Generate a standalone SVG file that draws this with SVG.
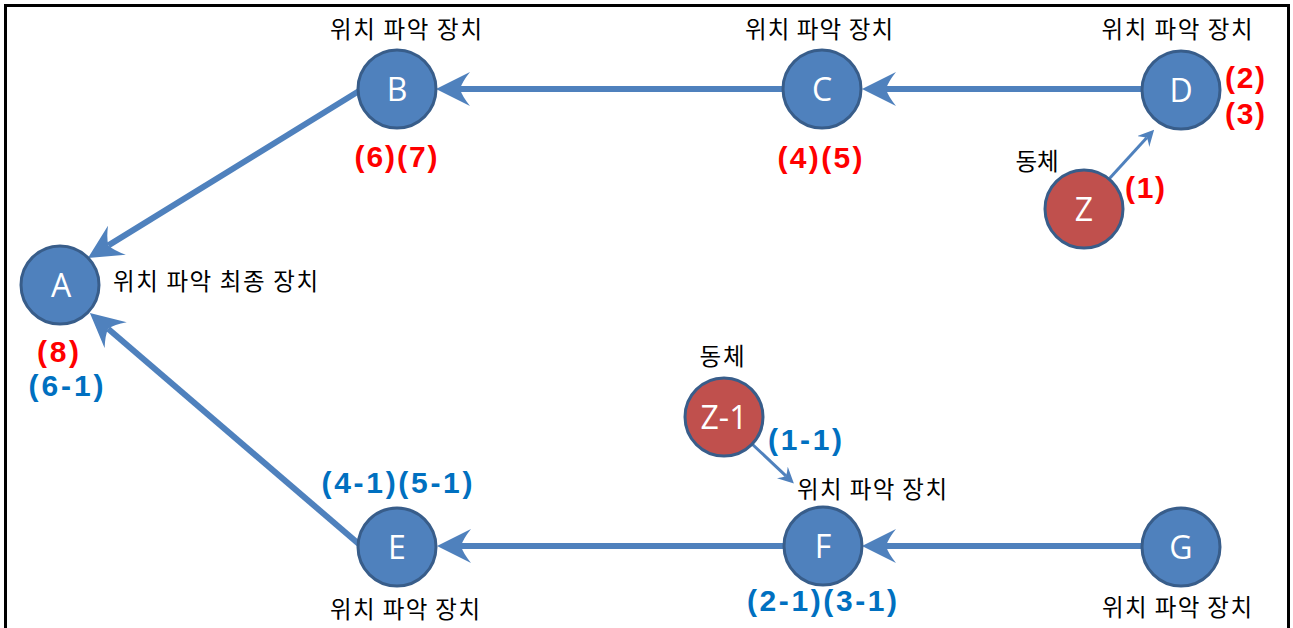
<svg xmlns="http://www.w3.org/2000/svg" width="1293" height="628" viewBox="0 0 1293 628">
<defs>
<style>
.node{fill:#4f81bd;stroke:#385d8a;stroke-width:3}
.obj{fill:#c0504d;stroke:#385d8a;stroke-width:3}
.lt{font-family:"Open Sans","Noto Sans","Liberation Sans",sans-serif;font-size:32px;fill:#fff;text-anchor:middle}
.kr{font-family:"Noto Sans CJK KR","Noto Sans CJK SC",sans-serif;font-size:23.5px;fill:#000}
.c{text-anchor:middle}
.num{font-family:"Liberation Sans","Arial",sans-serif;font-weight:bold;font-size:30px;text-anchor:middle}
.red{fill:#ff0000}
.blue{fill:#0070c0}
.thick{stroke:#4f81bd;stroke-width:6;fill:none;marker-end:url(#big)}
.thin{stroke:#4f81bd;stroke-width:3;fill:none;marker-end:url(#small)}
</style>
<marker id="big" markerUnits="userSpaceOnUse" viewBox="0 0 34 34" markerWidth="34" markerHeight="34" refX="10" refY="17" orient="auto">
<path d="M34,17 L0,0 Q8,10 10,17 Q8,24 0,34 Z" fill="#4f81bd"/>
</marker>
<marker id="small" markerUnits="userSpaceOnUse" viewBox="0 0 16 16" markerWidth="16" markerHeight="16" refX="5" refY="8" orient="auto">
<path d="M16,8 L0,0 Q4,5 5,8 Q4,11 0,16 Z" fill="#4f81bd"/>
</marker>
</defs>
<rect x="5.5" y="5.5" width="1283" height="700" fill="#fff" stroke="#000" stroke-width="3"/>
<g id="connectors">
<line class="thick" x1="783" y1="89" x2="460" y2="89"/>
<line class="thick" x1="1143" y1="89" x2="886" y2="89"/>
<line class="thick" x1="359" y1="91" x2="108.4" y2="245.4"/>
<line class="thick" x1="360" y1="545" x2="108.1" y2="328.7"/>
<line class="thick" x1="784" y1="546" x2="461" y2="546"/>
<line class="thick" x1="1142" y1="546" x2="886" y2="546"/>
<line class="thin" x1="1109" y1="179" x2="1146.7" y2="137.8"/>
<line class="thin" x1="752" y1="444" x2="785.9" y2="475.9"/>
</g>
<g id="node-A">
<circle class="node" cx="60" cy="285" r="39"/>
<text class="lt" x="61" y="297">A</text>
<text class="kr" x="113" y="290" textLength="205" lengthAdjust="spacing">위치 파악 최종 장치</text>
<text class="num red" x="58" y="362" textLength="42" lengthAdjust="spacing">(8)</text>
<text class="num blue" x="66" y="396" textLength="75" lengthAdjust="spacing">(6-1)</text>
</g>
<g id="node-B">
<circle class="node" cx="397" cy="89" r="39"/>
<text class="lt" x="397" y="101">B</text>
<text class="kr c" x="406" y="38" textLength="152" lengthAdjust="spacing">위치 파악 장치</text>
<text class="num red" x="396" y="167" textLength="83" lengthAdjust="spacing">(6)(7)</text>
</g>
<g id="node-C">
<circle class="node" cx="822" cy="89" r="39"/>
<text class="lt" x="822" y="101">C</text>
<text class="kr c" x="819" y="38" textLength="148" lengthAdjust="spacing">위치 파악 장치</text>
<text class="num red" x="820" y="168" textLength="85" lengthAdjust="spacing">(4)(5)</text>
</g>
<g id="node-D">
<circle class="node" cx="1181" cy="90" r="39"/>
<text class="lt" x="1181" y="102">D</text>
<text class="kr c" x="1177" y="38" textLength="151" lengthAdjust="spacing">위치 파악 장치</text>
<text class="num red" x="1245" y="88" textLength="40" lengthAdjust="spacing">(2)</text>
<text class="num red" x="1245" y="124" textLength="40" lengthAdjust="spacing">(3)</text>
</g>
<g id="node-Z">
<circle class="obj" cx="1084" cy="209" r="39"/>
<text class="lt" x="1084" y="221">Z</text>
<text class="kr c" x="1037" y="170" textLength="43" lengthAdjust="spacing">동체</text>
<text class="num red" x="1145" y="198" textLength="40" lengthAdjust="spacing">(1)</text>
</g>
<g id="node-E">
<circle class="node" cx="397" cy="547" r="39"/>
<text class="lt" x="397" y="559">E</text>
<text class="kr c" x="405" y="618" textLength="150" lengthAdjust="spacing">위치 파악 장치</text>
<text class="num blue" x="397" y="493" textLength="151" lengthAdjust="spacing">(4-1)(5-1)</text>
</g>
<g id="node-F">
<circle class="node" cx="823" cy="546" r="39"/>
<text class="lt" x="823" y="558">F</text>
<text class="kr c" x="872" y="498" textLength="150" lengthAdjust="spacing">위치 파악 장치</text>
<text class="num blue" x="822" y="611" textLength="150" lengthAdjust="spacing">(2-1)(3-1)</text>
</g>
<g id="node-G">
<circle class="node" cx="1181" cy="547" r="39"/>
<text class="lt" x="1181" y="559">G</text>
<text class="kr c" x="1177" y="616" textLength="150" lengthAdjust="spacing">위치 파악 장치</text>
</g>
<g id="node-Z1">
<circle class="obj" cx="724" cy="417" r="39"/>
<text class="lt" x="724" y="429">Z-1</text>
<text class="kr c" x="722" y="365" textLength="45" lengthAdjust="spacing">동체</text>
<text class="num blue" x="805" y="450" textLength="74" lengthAdjust="spacing">(1-1)</text>
</g>
</svg>
